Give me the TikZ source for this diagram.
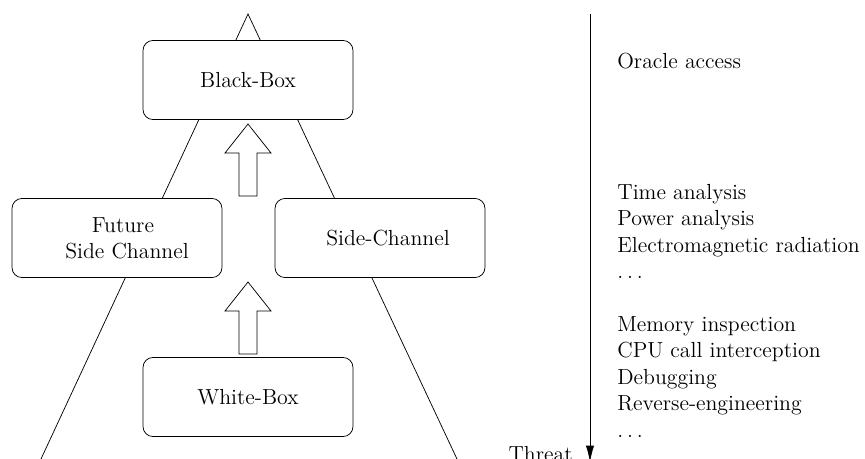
\documentclass[tikz,border=0pt]{standalone}
\usetikzlibrary{arrows.meta}
\newcommand{\spdots}{.\kern2.1pt.\kern2.1pt.}
\begin{document}
\begin{tikzpicture}[x=0.55pt,y=-0.55pt,
  every node/.style={font=\fontsize{12}{14.5}\selectfont},
  box/.style={draw,rounded corners=5.5pt,fill=white,minimum width=115.5pt,minimum height=43.5pt,inner sep=2pt},
  bigarrow/.style={draw,fill=white,line join=miter},
  lbl/.style={anchor=base west,inner sep=0pt}]
\useasboundingbox (0,0) rectangle (865,459);
\clip (0,0) rectangle (865,459);
% pyramid
\coordinate (apex) at (248,14);
\coordinate (bl) at (41,459);
\coordinate (br) at (457,459);
\draw (bl) -- (apex) -- (br);
% boxes
\node[box] (bb) at (248,80) {Black-Box};
\node[box,align=center] (fsc) at (117,238) {\hspace*{6.6pt}Future\\\hspace*{11pt}Side Channel};
\node[box] (sc) at (380,238) {\hspace*{8.8pt}Side-Channel};
\node[box] (wb) at (248,397) {White-Box};
% big arrows
\draw[bigarrow] (248,124) -- (271,153) -- (257,153) -- (257,196) -- (239,196) -- (239,153) -- (225,153) -- cycle;
\draw[bigarrow] (248,282) -- (271,311) -- (257,311) -- (257,354) -- (239,354) -- (239,311) -- (225,311) -- cycle;
% threat axis
\coordinate (ttop) at (590,14);
\coordinate (tbot) at (590,462);
\draw[-{Latex[length=9pt,width=4.5pt]}] (ttop) -- (tbot);
\node[anchor=base east,inner sep=0pt] (threat) at (573,461) {Threat};
% descriptions
\node[lbl] (t0) at (617,68) {Oracle access};
\node[lbl] (t1) at (617,199) {Time analysis};
\node[lbl] (t2) at (617,225.5) {Power analysis};
\node[lbl] (t3) at (617,252) {Electromagnetic radiation};
\node[lbl] (t4) at (617,278.5) {\spdots};
\node[lbl] (t5) at (617,331) {Memory inspection};
\node[lbl] (t6) at (617,357.5) {CPU call interception};
\node[lbl] (t7) at (617,384) {Debugging};
\node[lbl] (t8) at (617,410.5) {Reverse-engineering};
\node[lbl] (t9) at (617,437) {\spdots};
\end{tikzpicture}
\end{document}
